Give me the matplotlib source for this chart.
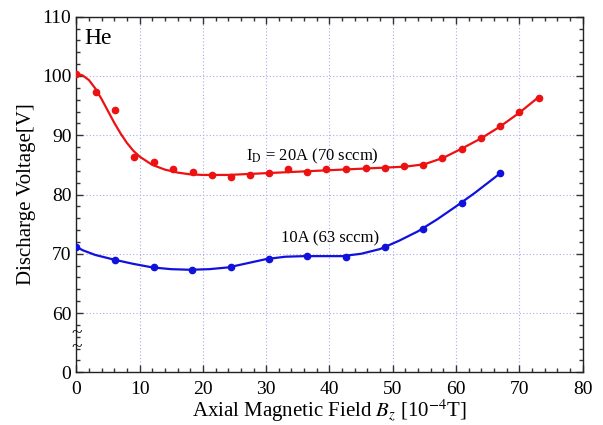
import matplotlib
matplotlib.use("Agg")
import matplotlib.pyplot as plt
from matplotlib.ticker import MultipleLocator

plt.rcParams['font.family'] = ['Liberation Serif', 'DejaVu Serif']
plt.rcParams['mathtext.fontset'] = 'stix'

# Measured data (20 A, 70 sccm)
red_x = [0, 3.1, 6.1, 9.1, 12.2, 15.3, 18.4, 21.4, 24.4, 27.5, 30.4, 33.4, 36.4,
         39.5, 42.6, 45.7, 48.7, 51.8, 54.8, 57.8, 60.9, 63.9, 67.0, 70.0, 73.1]
red_y = [100.4, 97.3, 94.2, 86.4, 85.4, 84.3, 83.8, 83.3, 83.0, 83.3, 83.7, 84.3, 83.8,
         84.3, 84.3, 84.5, 84.5, 84.8, 85.0, 86.1, 87.7, 89.5, 91.6, 93.9, 96.3]

# Fitted curve (20 A)
red_fit_x = [0, 1, 2, 3, 4, 5, 6, 7, 8, 9, 10, 12, 14, 16, 18, 20, 24, 28, 32, 36,
             40, 44, 48, 52, 55, 58, 61, 64, 67, 70, 73]
red_fit_y = [100.4, 100.1, 99.3, 97.9, 96.1, 94.1, 92.1, 90.3, 88.7, 87.4, 86.4, 85.0,
             84.2, 83.7, 83.4, 83.3, 83.3, 83.5, 83.7, 83.9, 84.1, 84.3, 84.5, 84.7,
             85.1, 86.2, 87.8, 89.5, 91.5, 93.8, 96.4]

# Measured data (10 A, 63 sccm)
blue_x = [0, 6.1, 12.2, 18.3, 24.4, 30.4, 36.5, 42.6, 48.7, 54.8, 60.9, 67.0]
blue_y = [71.2, 69.0, 67.7, 67.3, 67.7, 69.1, 69.7, 69.5, 71.1, 74.2, 78.6, 83.6]

# Fitted curve (10 A)
blue_fit_x = [0, 1, 2, 3, 4.5, 6, 9, 12, 15, 18, 21, 24, 27, 30, 33, 36, 39, 42, 45,
              48, 51, 54, 57, 60, 63, 67]
blue_fit_y = [71.2, 70.6, 70.2, 69.8, 69.4, 69.0, 68.3, 67.7, 67.4, 67.3, 67.4, 67.7,
              68.4, 69.1, 69.5, 69.6, 69.6, 69.6, 70.0, 70.8, 72.2, 73.8, 75.8, 78.0,
              80.3, 83.6]

y_ticks = [50, 60, 70, 80, 90, 100, 110]
y_tick_labels = ["0", "60", "70", "80", "90", "100", "110"]
x_ticks = [0, 10, 20, 30, 40, 50, 60, 70, 80]

fig = plt.figure(figsize=(6.03, 4.25), dpi=100)
ax = fig.add_axes([0.1265, 0.124, 0.8398, 0.8367])

red = '#ee1111'
blue = '#1111dd'
ax.plot(red_fit_x, red_fit_y, color=red, lw=1.6, zorder=3)
ax.plot(red_x, red_y, 'o', color=red, ms=4.5, zorder=4)
ax.plot(blue_fit_x, blue_fit_y, color=blue, lw=1.6, zorder=3)
ax.plot(blue_x, blue_y, 'o', color=blue, ms=4.5, zorder=4)

ax.set_xlim(0, 80)
ax.set_ylim(50, 110)
ax.set_xticks(x_ticks)
ax.set_yticks(y_ticks)
ax.set_yticklabels(y_tick_labels)
ax.xaxis.set_minor_locator(MultipleLocator(2))
ax.yaxis.set_minor_locator(MultipleLocator(2))
ax.tick_params(which='both', direction='in', top=True, right=True, labelsize=14,
               color='#333333')
ax.tick_params(which='major', length=5, width=1)
ax.tick_params(which='minor', length=3, width=1)
ax.tick_params(axis='x', pad=6)
for s in ax.spines.values():
    s.set_color('#222222')
    s.set_linewidth(1.0)

ax.grid(True, which='major', color='#aaaaee', linestyle=(0, (1, 2)), lw=0.8)

ax.set_xlabel(r"Axial Magnetic Field $B_z$ [10$^{-4}$T]", fontsize=15, labelpad=0)
ax.set_ylabel("Discharge Voltage[V]", fontsize=15, labelpad=4)

ax.text(1.3, 106.4, "He", fontsize=17, va='center', ha='left')
ax.text(26.8, 85.7, r"I$_\mathrm{D}$ = 20A (70 sccm)", fontsize=12, va='baseline', ha='left')
ax.text(32.3, 72.0, "10A (63 sccm)", fontsize=12, va='baseline', ha='left')

# axis break mark
ax.text(0, 55.3, "~\n~", fontsize=14, ha='center', va='center', linespacing=0.8,
        clip_on=False)

fig.savefig("out.png", dpi=100)
